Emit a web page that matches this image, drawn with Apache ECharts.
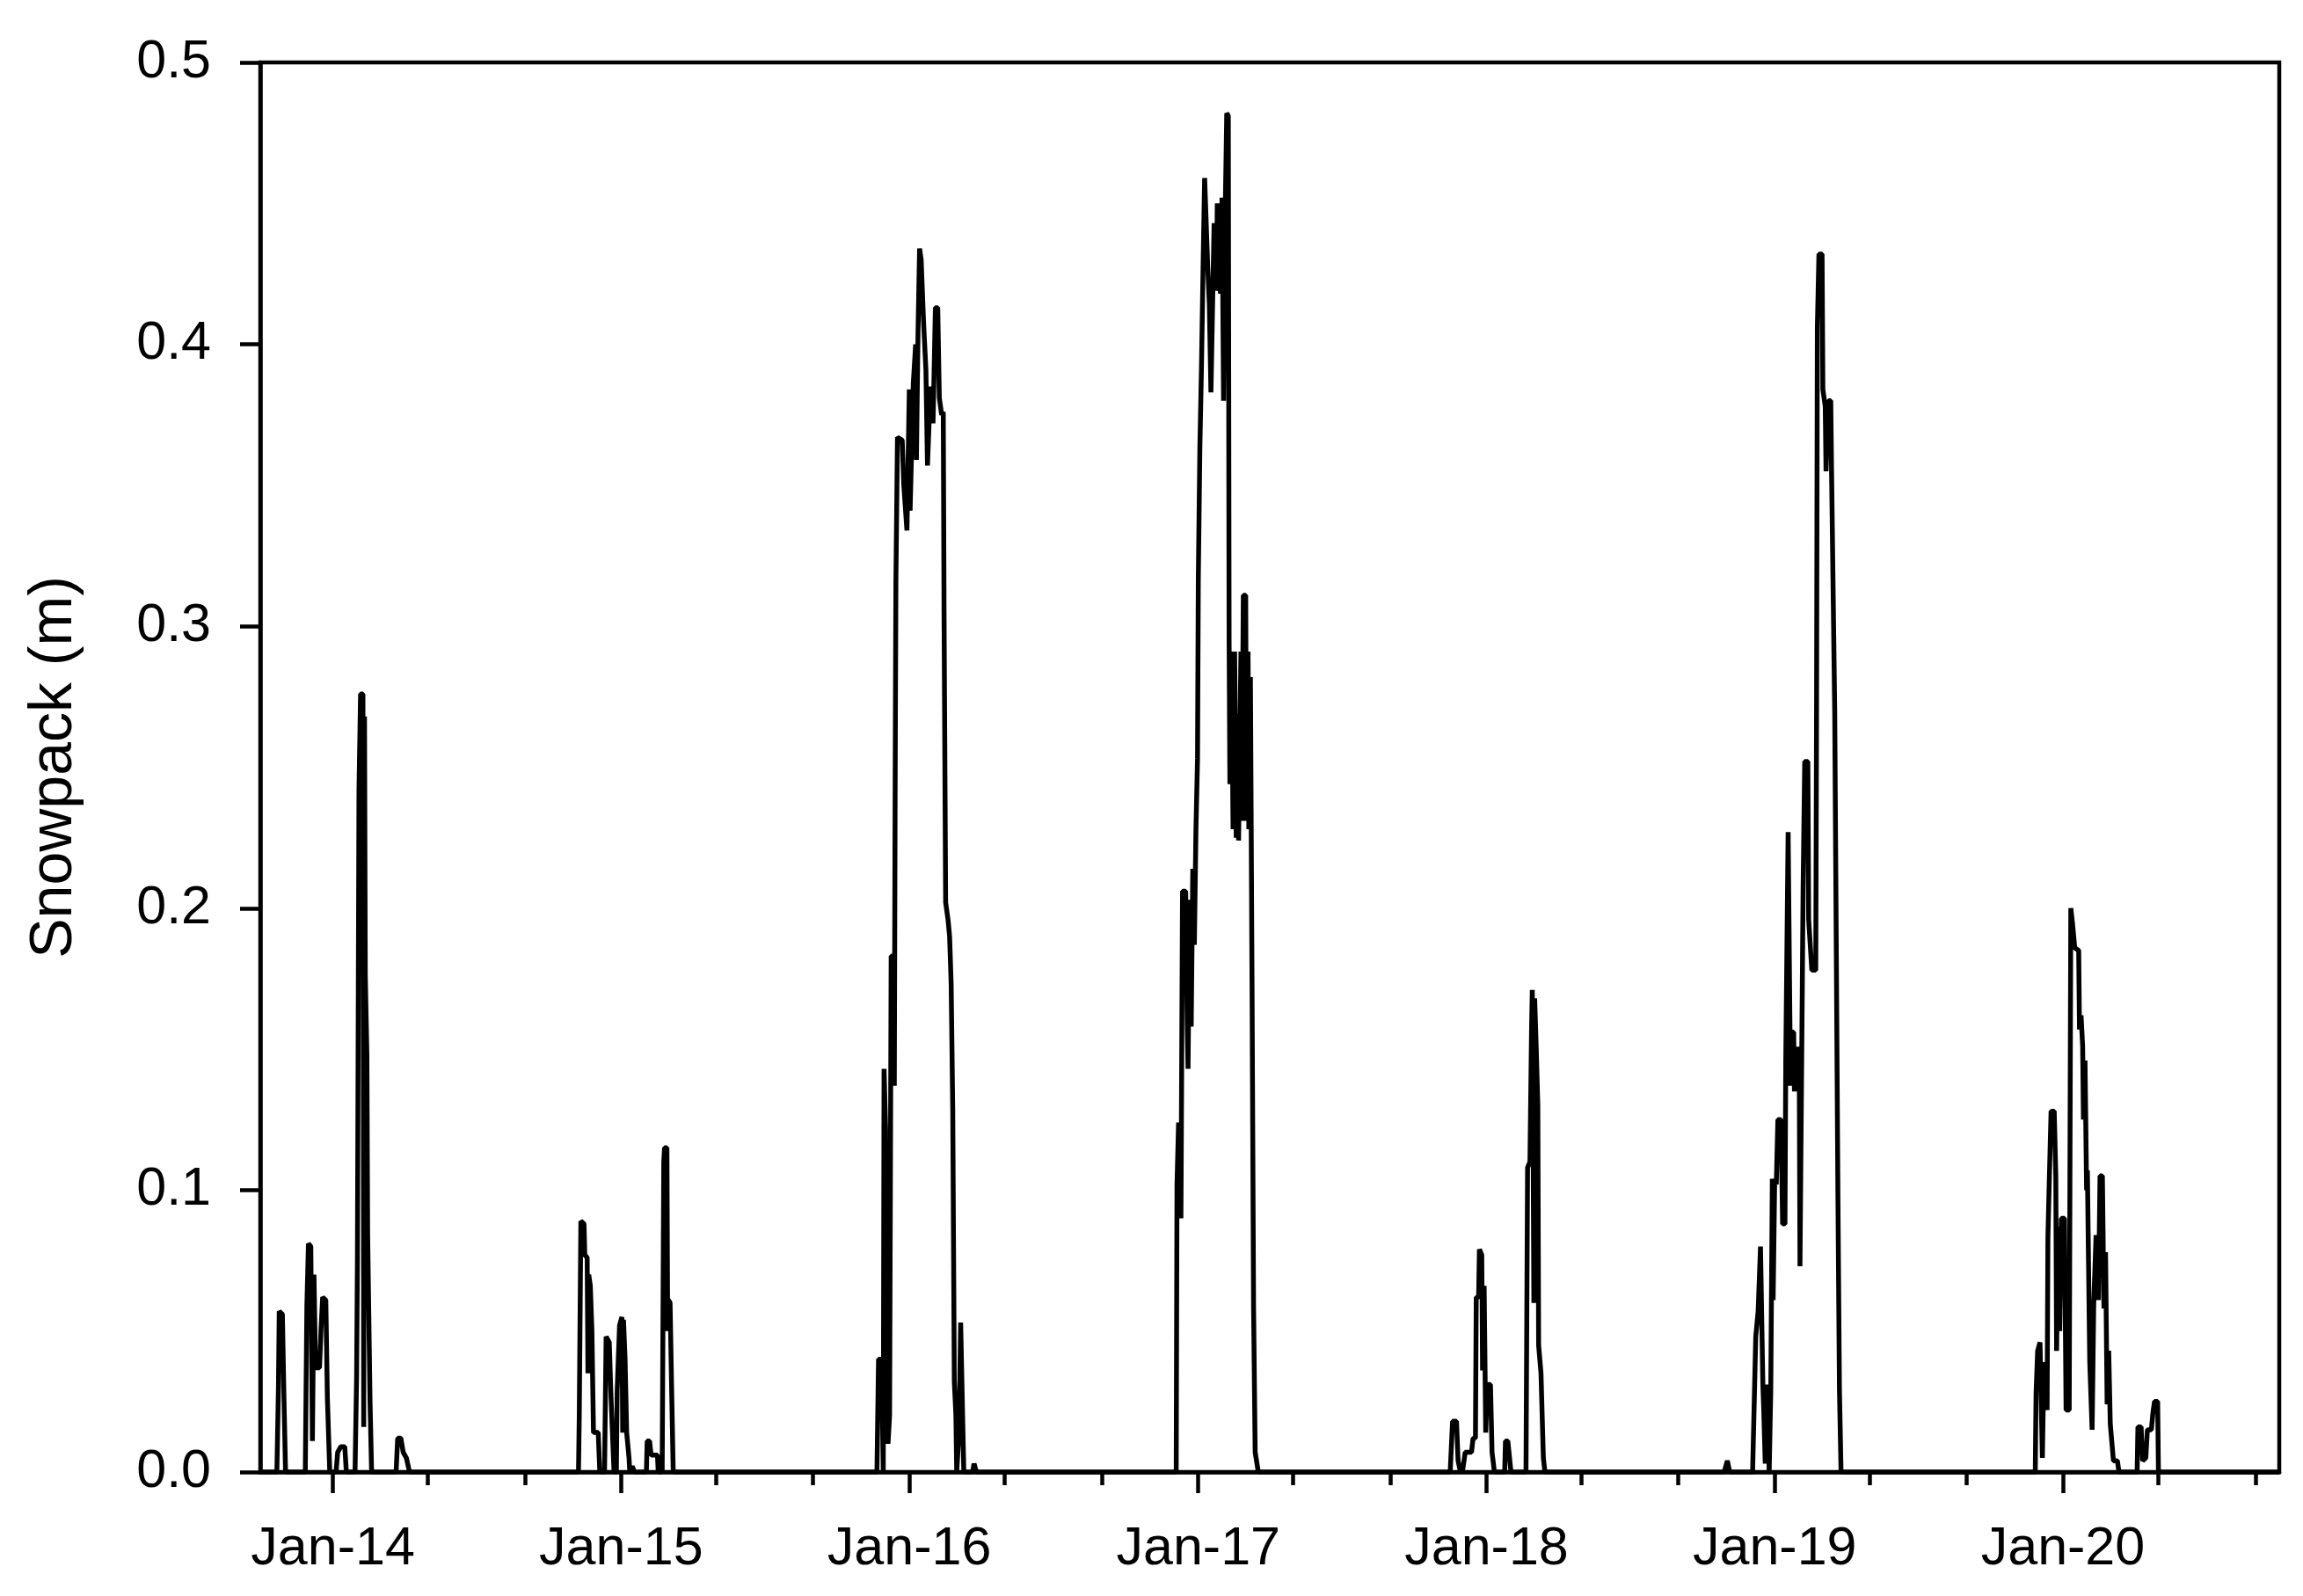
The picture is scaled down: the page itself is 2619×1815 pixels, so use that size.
<!DOCTYPE html>
<html>
<head>
<meta charset="utf-8">
<title>Snowpack</title>
<script src="https://cdn.jsdelivr.net/npm/echarts@6/dist/echarts.min.js"></script>
<style>
  html, body { margin: 0; padding: 0; background: #fff; }
  #snowChart { width: 2619px; height: 1815px; }
</style>
</head>
<body>
<div id="snowChart"></div>
<script>
// snowpack (m), one array per winter (zeros in between)
const wy2014 = [
  ['2013-10-01', 0],
  ['2013-10-22', 0], ['2013-10-24', 0.030], ['2013-10-25', 0.057], ['2013-10-29', 0.056], ['2013-10-31', 0.026], ['2013-11-02', 0],
  ['2013-11-27', 0], ['2013-11-29', 0.059], ['2013-12-01', 0.081], ['2013-12-04', 0.080], ['2013-12-06', 0.011], ['2013-12-08', 0.070],
  ['2013-12-10', 0.037], ['2013-12-15', 0.037], ['2013-12-17', 0.051], ['2013-12-19', 0.062], ['2013-12-23', 0.061], ['2013-12-25', 0.026], ['2013-12-28', 0],
  ['2014-01-05', 0], ['2014-01-07', 0.007], ['2014-01-11', 0.009], ['2014-01-16', 0.009], ['2014-01-18', 0],
  ['2014-01-29', 0], ['2014-01-31', 0.034], ['2014-02-01', 0.074], ['2014-02-03', 0.242], ['2014-02-05', 0.276], ['2014-02-08', 0.276],
  ['2014-02-09', 0.016], ['2014-02-10', 0.268], ['2014-02-11', 0.176], ['2014-02-13', 0.148], ['2014-02-14', 0.084], ['2014-02-17', 0.025], ['2014-02-19', 0],
  ['2014-03-22', 0], ['2014-03-24', 0.012], ['2014-03-28', 0.012], ['2014-03-31', 0.007], ['2014-04-04', 0.005], ['2014-04-08', 0]
]
const wy2015 = [
  ['2014-11-08', 0], ['2014-11-09', 0.020], ['2014-11-11', 0.089], ['2014-11-15', 0.088], ['2014-11-16', 0.077], ['2014-11-19', 0.076],
  ['2014-11-20', 0.035], ['2014-11-21', 0.070], ['2014-11-23', 0.066], ['2014-11-25', 0.050], ['2014-11-27', 0.014], ['2014-12-03', 0.014], ['2014-12-05', 0],
  ['2014-12-11', 0], ['2014-12-13', 0.048], ['2014-12-17', 0.046], ['2014-12-19', 0.028], ['2014-12-23', 0],
  ['2014-12-26', 0], ['2014-12-27', 0.029], ['2014-12-30', 0.052], ['2015-01-02', 0.055], ['2015-01-03', 0.014], ['2015-01-04', 0.054],
  ['2015-01-06', 0.040], ['2015-01-08', 0.014], ['2015-01-11', 0.005], ['2015-01-12', 0],
  ['2015-01-14', 0], ['2015-01-15', 0.002], ['2015-01-17', 0.002], ['2015-01-18', 0],
  ['2015-02-02', 0], ['2015-02-03', 0.011], ['2015-02-06', 0.011], ['2015-02-08', 0.006], ['2015-02-16', 0.006], ['2015-02-17', 0],
  ['2015-02-22', 0], ['2015-02-24', 0.110], ['2015-02-25', 0.115], ['2015-02-28', 0.115], ['2015-03-01', 0.050], ['2015-03-02', 0.061],
  ['2015-03-04', 0.060], ['2015-03-06', 0.029], ['2015-03-08', 0]
]
const wy2016 = [
  ['2015-11-21', 0], ['2015-11-23', 0.040], ['2015-11-27', 0.040], ['2015-11-29', 0], ['2015-11-30', 0.143], ['2015-12-02', 0.121],
  ['2015-12-03', 0.035], ['2015-12-05', 0.010], ['2015-12-07', 0.020], ['2015-12-09', 0.183], ['2015-12-12', 0.183], ['2015-12-13', 0.137],
  ['2015-12-14', 0.239], ['2015-12-15', 0.316], ['2015-12-17', 0.367], ['2015-12-23', 0.366], ['2015-12-25', 0.350], ['2015-12-29', 0.334],
  ['2016-01-01', 0.384], ['2016-01-02', 0.341], ['2016-01-04', 0.341], ['2016-01-06', 0.386], ['2016-01-09', 0.400], ['2016-01-10', 0.359],
  ['2016-01-12', 0.404], ['2016-01-14', 0.434], ['2016-01-16', 0.430], ['2016-01-19', 0.408], ['2016-01-22', 0.391], ['2016-01-24', 0.357],
  ['2016-01-26', 0.372], ['2016-01-28', 0.385], ['2016-01-31', 0.372], ['2016-02-01', 0.385], ['2016-02-03', 0.413], ['2016-02-06', 0.413],
  ['2016-02-08', 0.381], ['2016-02-11', 0.375], ['2016-02-13', 0.376], ['2016-02-14', 0.304], ['2016-02-16', 0.202], ['2016-02-19', 0.196],
  ['2016-02-21', 0.190], ['2016-02-23', 0.173], ['2016-02-25', 0.128], ['2016-02-27', 0.032], ['2016-02-29', 0.020], ['2016-03-01', 0],
  ['2016-03-04', 0.014], ['2016-03-06', 0.053], ['2016-03-08', 0.053], ['2016-03-10', 0],
  ['2016-03-21', 0], ['2016-03-23', 0.003], ['2016-03-26', 0]
]
const wy2017 = [
  ['2016-12-04', 0], ['2016-12-05', 0.102], ['2016-12-07', 0.124], ['2016-12-08', 0.124], ['2016-12-10', 0.090], ['2016-12-12', 0.206],
  ['2016-12-16', 0.206], ['2016-12-18', 0.158], ['2016-12-19', 0.143], ['2016-12-21', 0.203], ['2016-12-23', 0.158], ['2016-12-25', 0.214],
  ['2016-12-27', 0.187], ['2016-12-29', 0.228], ['2016-12-31', 0.253], ['2017-01-01', 0.317], ['2017-01-03', 0.364], ['2017-01-05', 0.392],
  ['2017-01-07', 0.427], ['2017-01-09', 0.459], ['2017-01-11', 0.459], ['2017-01-13', 0.427], ['2017-01-15', 0.414], ['2017-01-17', 0.383],
  ['2017-01-19', 0.383], ['2017-01-21', 0.443], ['2017-01-24', 0.419], ['2017-01-25', 0.450], ['2017-01-27', 0.450], ['2017-01-29', 0.418],
  ['2017-01-31', 0.452], ['2017-02-02', 0.380], ['2017-02-04', 0.446], ['2017-02-06', 0.482], ['2017-02-08', 0.481], ['2017-02-09', 0.295],
  ['2017-02-10', 0.244], ['2017-02-12', 0.291], ['2017-02-14', 0.228], ['2017-02-16', 0.291], ['2017-02-18', 0.225], ['2017-02-20', 0.269],
  ['2017-02-21', 0.224], ['2017-02-24', 0.291], ['2017-02-25', 0.231], ['2017-02-27', 0.311], ['2017-03-02', 0.311], ['2017-03-03', 0.231],
  ['2017-03-05', 0.291], ['2017-03-06', 0.228], ['2017-03-08', 0.282], ['2017-03-10', 0.175], ['2017-03-12', 0.058], ['2017-03-14', 0.007],
  ['2017-03-18', 0]
]
const wy2018 = [
  ['2017-11-16', 0], ['2017-11-19', 0.018], ['2017-11-24', 0.018], ['2017-11-26', 0.004], ['2017-11-29', 0], ['2017-12-02', 0.001],
  ['2017-12-05', 0.007], ['2017-12-13', 0.007], ['2017-12-15', 0.012], ['2017-12-18', 0.012], ['2017-12-19', 0.062], ['2017-12-22', 0.062],
  ['2017-12-23', 0.079], ['2017-12-26', 0.077], ['2017-12-27', 0.036], ['2017-12-29', 0.066], ['2017-12-31', 0.014], ['2018-01-02', 0.031],
  ['2018-01-06', 0.031], ['2018-01-08', 0.007], ['2018-01-11', 0],
  ['2018-01-24', 0], ['2018-01-25', 0.011], ['2018-01-28', 0.011], ['2018-02-01', 0],
  ['2018-02-20', 0], ['2018-02-22', 0.108], ['2018-02-25', 0.110], ['2018-02-27', 0.156], ['2018-02-28', 0.171], ['2018-03-01', 0.171],
  ['2018-03-02', 0.060], ['2018-03-03', 0.168], ['2018-03-05', 0.150], ['2018-03-07', 0.130], ['2018-03-08', 0.045], ['2018-03-11', 0.035],
  ['2018-03-14', 0.005], ['2018-03-16', 0]
]
const wy2019 = [
  ['2018-10-29', 0], ['2018-11-02', 0.004], ['2018-11-05', 0],
  ['2018-12-04', 0], ['2018-12-08', 0.048], ['2018-12-11', 0.057], ['2018-12-14', 0.080], ['2018-12-15', 0.080], ['2018-12-17', 0.031],
  ['2018-12-18', 0.023], ['2018-12-20', 0.003], ['2018-12-22', 0.031], ['2018-12-25', 0], ['2018-12-27', 0.029], ['2018-12-29', 0.104],
  ['2018-12-30', 0.061], ['2019-01-01', 0.104], ['2019-01-03', 0.102], ['2019-01-05', 0.125], ['2019-01-09', 0.125], ['2019-01-11', 0.088],
  ['2019-01-14', 0.088], ['2019-01-15', 0.146], ['2019-01-18', 0.227], ['2019-01-20', 0.227], ['2019-01-21', 0.137], ['2019-01-22', 0.156],
  ['2019-01-25', 0.156], ['2019-01-26', 0.135], ['2019-01-29', 0.150], ['2019-02-01', 0.150], ['2019-02-02', 0.073], ['2019-02-04', 0.073],
  ['2019-02-06', 0.208], ['2019-02-08', 0.252], ['2019-02-12', 0.252], ['2019-02-13', 0.196], ['2019-02-15', 0.196], ['2019-02-17', 0.178],
  ['2019-02-22', 0.178], ['2019-02-23', 0.270], ['2019-02-24', 0.406], ['2019-02-26', 0.432], ['2019-03-02', 0.432], ['2019-03-03', 0.384],
  ['2019-03-06', 0.378], ['2019-03-07', 0.355], ['2019-03-10', 0.380], ['2019-03-13', 0.380], ['2019-03-14', 0.355], ['2019-03-16', 0.355],
  ['2019-03-18', 0.270], ['2019-03-20', 0.185], ['2019-03-22', 0.100], ['2019-03-24', 0.029], ['2019-03-26', 0]
]
const wy2020 = [
  ['2019-11-27', 0], ['2019-11-28', 0.028], ['2019-11-30', 0.043], ['2019-12-03', 0.046], ['2019-12-04', 0.046], ['2019-12-06', 0.005],
  ['2019-12-08', 0.039], ['2019-12-10', 0.039], ['2019-12-12', 0.022], ['2019-12-13', 0.083], ['2019-12-14', 0.095], ['2019-12-17', 0.128],
  ['2019-12-21', 0.128], ['2019-12-23', 0.105], ['2019-12-24', 0.043], ['2019-12-26', 0.087], ['2019-12-28', 0.050], ['2019-12-30', 0.090],
  ['2020-01-03', 0.090], ['2020-01-05', 0.022], ['2020-01-09', 0.022], ['2020-01-10', 0.114], ['2020-01-11', 0.200], ['2020-01-13', 0.195],
  ['2020-01-16', 0.186], ['2020-01-21', 0.185], ['2020-01-22', 0.157], ['2020-01-24', 0.162], ['2020-01-26', 0.151], ['2020-01-27', 0.125],
  ['2020-01-29', 0.146], ['2020-01-31', 0.100], ['2020-02-01', 0.107], ['2020-02-04', 0.039], ['2020-02-07', 0.015], ['2020-02-09', 0.059],
  ['2020-02-12', 0.084], ['2020-02-15', 0.061], ['2020-02-17', 0.105], ['2020-02-20', 0.105], ['2020-02-22', 0.058], ['2020-02-24', 0.078],
  ['2020-02-26', 0.024], ['2020-02-28', 0.043], ['2020-03-01', 0.017], ['2020-03-05', 0.004], ['2020-03-10', 0.004], ['2020-03-12', 0],
  ['2020-04-04', 0], ['2020-04-05', 0.016], ['2020-04-09', 0.016], ['2020-04-11', 0.004], ['2020-04-15', 0.005], ['2020-04-17', 0.015],
  ['2020-04-22', 0.015], ['2020-04-24', 0.021], ['2020-04-26', 0.025], ['2020-04-30', 0.025], ['2020-05-01', 0],
  ['2020-10-01', 0]
]

// axis ticks: years labelled at Jan, small ticks at May and Sep
const tickYears = [2014, 2015, 2016, 2017, 2018, 2019, 2020]
const minorMonths = [4, 8]
const yTicks = [0, 0.1, 0.2, 0.3, 0.4, 0.5]

const FONT = 'Liberation Sans, Arial, Helvetica, sans-serif'
const day = s => Date.parse(s)

const seriesData = [].concat(wy2014, wy2015, wy2016, wy2017, wy2018, wy2019, wy2020)
  .map(p => [day(p[0]), p[1]])
const janTicks = tickYears.map(y => Date.UTC(y, 0, 1))
const minorTicks = []
tickYears.forEach(y => minorMonths.forEach(m => minorTicks.push(Date.UTC(y, m, 1))))

const xMin = Date.UTC(2013, 9, 1)
const xMax = Date.UTC(2020, 9, 1)

const chart = echarts.init(document.getElementById('snowChart'), null, { renderer: 'canvas' })
chart.setOption({
  animation: false,
  backgroundColor: '#fff',
  grid: {
    left: 296,
    right: 27,
    top: 71,
    bottom: 141,
    show: true,
    borderColor: '#000',
    borderWidth: 4.5,
    backgroundColor: 'transparent'
  },
  xAxis: [
    {
      type: 'value',
      position: 'bottom',
      min: xMin,
      max: xMax,
      splitLine: { show: false },
      axisLine: { show: true, onZero: false, lineStyle: { color: '#000', width: 4.5 } },
      axisTick: { show: true, customValues: janTicks, length: 24, lineStyle: { color: '#000', width: 4.5 } },
      axisLabel: {
        customValues: janTicks,
        margin: 58,
        color: '#000',
        fontSize: 61,
        fontFamily: FONT,
        formatter: v => 'Jan-' + String(new Date(v).getUTCFullYear()).slice(2)
      }
    },
    {
      type: 'value',
      position: 'bottom',
      min: xMin,
      max: xMax,
      splitLine: { show: false },
      axisLine: { show: false },
      axisTick: { show: true, customValues: minorTicks, length: 15, lineStyle: { color: '#000', width: 4.5 } },
      axisLabel: { show: false }
    }
  ],
  yAxis: {
    type: 'value',
    min: 0,
    max: 0.5,
    interval: 0.1,
    name: 'Snowpack (m)',
    nameLocation: 'middle',
    nameGap: 200,
    nameTextStyle: { color: '#000', fontSize: 68, fontFamily: FONT },
    splitLine: { show: false },
    axisLine: { show: true, lineStyle: { color: '#000', width: 4.5 } },
    axisTick: { show: true, customValues: yTicks, length: 23, lineStyle: { color: '#000', width: 4.5 } },
    axisLabel: {
      margin: 56,
      color: '#000',
      fontSize: 61,
      fontFamily: FONT,
      formatter: v => v.toFixed(1)
    }
  },
  series: [
    {
      name: 'Snowpack',
      type: 'line',
      xAxisIndex: 0,
      data: seriesData,
      showSymbol: false,
      smooth: false,
      lineStyle: { color: '#000', width: 5.5, join: 'bevel' },
      itemStyle: { color: '#000' }
    }
  ]
})
</script>
</body>
</html>
